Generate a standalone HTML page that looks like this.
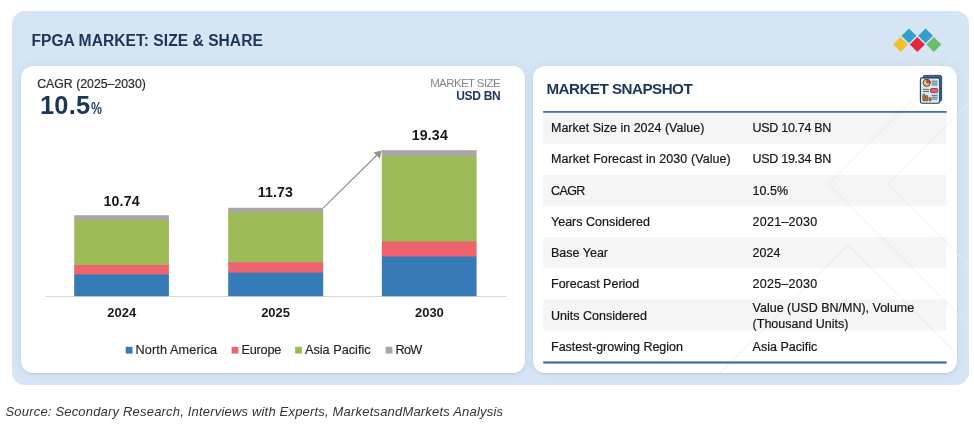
<!DOCTYPE html>
<html>
<head>
<meta charset="utf-8">
<title>FPGA Market: Size &amp; Share</title>
<style>
*{box-sizing:border-box;margin:0;padding:0}
html,body{width:974px;height:425px;background:#fff;overflow:hidden}
body{position:relative;font-family:"Liberation Sans",sans-serif;color:#1a1a1a}
.abs{position:absolute;white-space:nowrap;line-height:1}
.panel{position:absolute;left:12px;top:11px;width:957px;height:374px;border-radius:13px;background:#d6e5f3}
.card{position:absolute;top:66.2px;height:307.3px;background:#fff;border-radius:12px;box-shadow:0 0 8px rgba(70,110,160,.11),0 1px 1.5px rgba(90,125,170,.2)}
#cardL{left:21.4px;width:503.6px}
#cardR{left:533.4px;width:423.8px}
.navy{color:#1a3658}
#title{left:31.4px;top:33.1px;font-size:15.6px;font-weight:bold;letter-spacing:.03px}
#cagr{left:37.2px;top:78px;font-size:12.3px;color:#2b2b2b;-webkit-text-stroke:.2px #2b2b2b}
#cagrv{left:40px;top:92.6px;font-size:25.4px;font-weight:bold;letter-spacing:.2px}
#cagrv small{font-size:16.2px;letter-spacing:0;display:inline-block;transform:scaleX(.76);transform-origin:0 100%;margin-left:.6px}
#ms1{right:474px;top:78px;font-size:11.5px;color:#858585;letter-spacing:-.6px}
#ms2{right:473.6px;top:90px;font-size:12px;font-weight:bold;letter-spacing:-.3px}
.seg{position:absolute}
.val{font-size:14.2px;letter-spacing:.15px;font-weight:bold;color:#1a1a1a;transform:translateX(-50%)}
.yr{font-size:13px;font-weight:bold;color:#1a1a1a;transform:translateX(-50%);top:306px}
.lg{font-size:12.7px;color:#222;-webkit-text-stroke:.15px #222;top:343.5px}
.sq{position:absolute;top:346.8px;width:6.8px;height:6.8px}
#snap{left:546.4px;top:81.3px;font-size:15.2px;font-weight:bold;letter-spacing:-.52px}
.row{position:absolute;left:543.2px;width:403.3px;height:31.2px}
.row.g{background:#f5f5f5}
.k,.v{position:absolute;font-size:12.5px;color:#151515;-webkit-text-stroke:.2px #151515;white-space:nowrap;line-height:1;top:9.2px}
.k{left:551px}
.v{left:752.6px}
.v.two{line-height:16.25px}
.bl{position:absolute;left:543.2px;width:403.3px;height:1.8px;background:#3d78b2}
#src{left:5.5px;top:404.5px;font-size:13px;font-style:italic;color:#333;letter-spacing:.187px}
</style>
</head>
<body>
<div class="panel"></div>
<svg class="abs" style="left:12px;top:11px" width="957" height="374" viewBox="12 11 957 374">
<g stroke="#ffffff" stroke-opacity=".35" stroke-width="1" fill="none">
<path d="M969 43.2 L828.2 184 L969 324.8"/>
<path d="M969 102.7 L887.4 184.3 L969 265.9"/>
</g>
</svg>
<div class="card" id="cardL"></div>
<div class="card" id="cardR"></div>

<div class="abs navy" id="title">FPGA MARKET: SIZE &amp; SHARE</div>

<!-- logo -->
<svg class="abs" style="left:890px;top:26px" width="56" height="30" viewBox="890 26 56 30">
<g>
<polygon points="900.5,37 908,44.5 900.5,52 893.1,44.5" fill="#f0c12b"/>
<polygon points="909,28.4 916.4,35.8 909,43.2 901.6,35.8" fill="#30a1c7"/>
<polygon points="917.3,37 924.8,44.5 917.3,52 909.8,44.5" fill="#e8263f"/>
<polygon points="925.6,28.4 933,35.8 925.6,43.2 918.2,35.8" fill="#30a1c7"/>
<polygon points="933.9,37 941.4,44.5 933.9,52 926.4,44.5" fill="#6bbd6f"/>
</g>
</svg>

<div class="abs" id="cagr">CAGR (2025–2030)</div>
<div class="abs navy" id="cagrv">10.5<small>%</small></div>
<div class="abs" id="ms1">MARKET SIZE</div>
<div class="abs navy" id="ms2">USD BN</div>

<!-- chart -->
<div class="seg" style="left:44.7px;top:296px;width:462px;height:1px;background:#d9d9d9"></div>
<!-- bars -->
<svg class="abs" style="left:0;top:140px" width="520" height="160" viewBox="0 140 520 160">
<rect x="74.2" y="215.2" width="94.7" height="5.5" fill="#aaa6a6"/>
<rect x="74.2" y="220.1" width="94.7" height="45.5" fill="#9cbb56"/>
<rect x="74.2" y="265.0" width="94.7" height="10.1" fill="#ed646f"/>
<rect x="74.2" y="274.5" width="94.7" height="21.7" fill="#377ab8"/>
<rect x="228.2" y="207.8" width="95.0" height="5.2" fill="#aaa6a6"/>
<rect x="228.2" y="212.4" width="95.0" height="50.3" fill="#9cbb56"/>
<rect x="228.2" y="262.1" width="95.0" height="11.1" fill="#ed646f"/>
<rect x="228.2" y="272.6" width="95.0" height="23.6" fill="#377ab8"/>
<rect x="381.8" y="150.2" width="94.8" height="6.6" fill="#aaa6a6"/>
<rect x="381.8" y="156.2" width="94.8" height="85.8" fill="#9cbb56"/>
<rect x="381.8" y="241.4" width="94.8" height="15.7" fill="#ed646f"/>
<rect x="381.8" y="256.5" width="94.8" height="39.7" fill="#377ab8"/>
</svg>
<!-- arrow -->
<svg class="abs" style="left:318px;top:145px" width="70" height="70" viewBox="318 145 70 70">
<line x1="323.1" y1="208.1" x2="377" y2="155" stroke="#8e8e8e" stroke-width="1.1"/>
<polygon points="381.7,150.4 373.4,152.5 379.8,158.6" fill="#8e8e8e"/>
</svg>

<div class="abs val" style="left:121.6px;top:193.5px">10.74</div>
<div class="abs val" style="left:275.4px;top:185.2px">11.73</div>
<div class="abs val" style="left:429.8px;top:127.6px">19.34</div>

<div class="abs yr" style="left:121.7px">2024</div>
<div class="abs yr" style="left:275.6px">2025</div>
<div class="abs yr" style="left:429.4px">2030</div>

<svg class="abs" style="left:124px;top:345px" width="10" height="10" viewBox="124 345 10 10"><rect x="125.7" y="346.8" width="6.8" height="6.8" fill="#377ab8"/></svg>
<div class="abs lg" style="left:135.6px;letter-spacing:.1px">North America</div>
<svg class="abs" style="left:230px;top:345px" width="10" height="10" viewBox="230 345 10 10"><rect x="231.6" y="346.8" width="6.8" height="6.8" fill="#ed646f"/></svg>
<div class="abs lg" style="left:241.4px;letter-spacing:-.2px">Europe</div>
<svg class="abs" style="left:294px;top:345px" width="10" height="10" viewBox="294 345 10 10"><rect x="295.1" y="346.8" width="6.8" height="6.8" fill="#9cbb56"/></svg>
<div class="abs lg" style="left:305px">Asia Pacific</div>
<svg class="abs" style="left:384px;top:345px" width="10" height="10" viewBox="384 345 10 10"><rect x="385.6" y="346.8" width="6.8" height="6.8" fill="#aaa6a6"/></svg>
<div class="abs lg" style="left:395.6px;letter-spacing:-.8px">RoW</div>

<!-- report icon -->
<svg class="abs" style="left:916px;top:72px" width="30" height="36" viewBox="916 72 30 36">
<rect x="923.2" y="75.4" width="18.4" height="25.8" rx="1.6" fill="#2f6fb0" stroke="#233a52" stroke-width=".9"/>
<rect x="920.4" y="77.9" width="19.3" height="25.4" rx="1.8" fill="#d9edf6" stroke="#233a52" stroke-width="1.1"/>
<circle cx="926.7" cy="82.8" r="3.6" fill="#f2c078" stroke="#6b3a1e" stroke-width="1"/>
<path d="M926.7 82.8 L926.7 79.2 A3.6 3.6 0 0 1 930.3 82.8 Z" fill="#e0404f" stroke="#6b3a1e" stroke-width=".6"/>
<g stroke="#2d4858" stroke-width=".8" stroke-linecap="round">
<line x1="932" y1="81.2" x2="937.2" y2="81.2"/><line x1="932" y1="83.1" x2="937.2" y2="83.1"/><line x1="932" y1="85" x2="937.2" y2="85"/>
<line x1="923.3" y1="89.4" x2="928.6" y2="89.4"/><line x1="923.3" y1="91.5" x2="928.6" y2="91.5"/>
<line x1="932" y1="95.3" x2="937.2" y2="95.3"/><line x1="932" y1="97.2" x2="937.2" y2="97.2"/><line x1="932" y1="99.1" x2="937.2" y2="99.1"/>
</g>
<rect x="930.6" y="88.6" width="7" height="4" rx=".8" fill="#e9636d" stroke="#6b2a2e" stroke-width=".8"/>
<g fill="#b87a48" stroke="#5a3218" stroke-width=".6">
<rect x="922.8" y="94.2" width="2.3" height="6.8" rx=".8"/><rect x="925.6" y="95.6" width="2.3" height="5.4" rx=".8"/><rect x="929" y="97.6" width="2" height="3.4" rx=".7"/>
</g>
</svg>
<!-- snapshot -->
<div class="abs navy" id="snap">MARKET SNAPSHOT</div>

<svg class="abs" style="left:540px;top:108px" width="410" height="260" viewBox="540 108 410 260">
<rect x="543.2" y="112.60" width="403.4" height="31.13" fill="#f5f5f5"/>
<rect x="543.2" y="174.86" width="403.4" height="31.13" fill="#f5f5f5"/>
<rect x="543.2" y="237.12" width="403.4" height="31.13" fill="#f5f5f5"/>
<rect x="543.2" y="299.38" width="403.4" height="31.13" fill="#f5f5f5"/>
<rect x="543.2" y="111" width="403.4" height="1.8" fill="#3a73ab"/>
<rect x="543.2" y="361.4" width="403.4" height="2.2" fill="#3a70a6"/>
</svg>
<!-- faint watermark lines -->
<svg class="abs" style="left:534px;top:66px" width="423" height="307" viewBox="534 66 423 307">
<g stroke="#000" stroke-opacity=".06" stroke-width="1" fill="none">
<path d="M946.2 66 L828.2 184 L957 312.8"/>
<path d="M957 114.7 L887.4 184.3 L957 253.9"/>
<path d="M720.1 373 L848.1 245 L957 353.9"/>
</g>
</svg>
<div class="abs k" id="k0" style="top:121.54px">Market Size in 2024 (Value)</div>
<div class="abs v" id="v0" style="letter-spacing:-.3px;top:121.54px">USD 10.74 BN</div>
<div class="abs k" id="k1" style="letter-spacing:.07px;top:152.54px">Market Forecast in 2030 (Value)</div>
<div class="abs v" id="v1" style="letter-spacing:-.3px;top:152.54px">USD 19.34 BN</div>
<div class="abs k" id="k2" style="letter-spacing:-.6px;top:184.54px">CAGR</div>
<div class="abs v" id="v2" style="top:184.54px">10.5%</div>
<div class="abs k" id="k3" style="top:215.54px">Years Considered</div>
<div class="abs v" id="v3" style="letter-spacing:.25px;top:215.54px">2021–2030</div>
<div class="abs k" id="k4" style="top:246.54px">Base Year</div>
<div class="abs v" id="v4" style="top:246.54px">2024</div>
<div class="abs k" id="k5" style="top:277.54px">Forecast Period</div>
<div class="abs v" id="v5" style="letter-spacing:.25px;top:277.54px">2025–2030</div>
<div class="abs k" id="k6" style="top:309.54px">Units Considered</div>
<div class="abs v two" id="v6" style="top:299.62px">Value (USD BN/MN), Volume<br>(Thousand Units)</div>
<div class="abs k" id="k7" style="top:340.54px">Fastest-growing Region</div>
<div class="abs v" id="v7" style="top:340.54px">Asia Pacific</div>

<div class="abs" id="src">Source: Secondary Research, Interviews with Experts, MarketsandMarkets Analysis</div>
</body>
</html>
